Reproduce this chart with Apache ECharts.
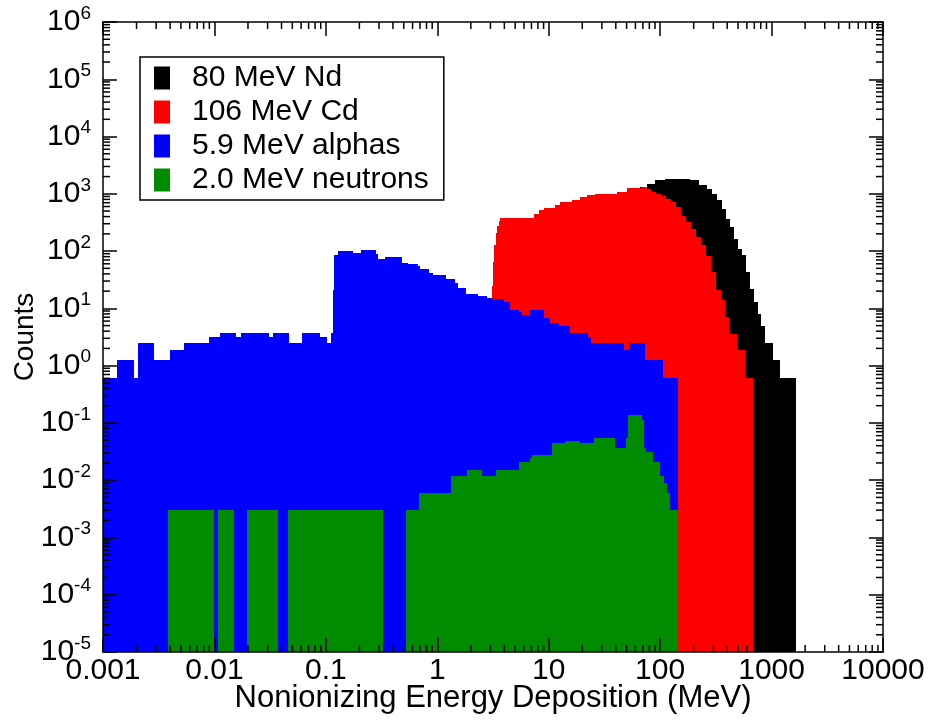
<!DOCTYPE html>
<html>
<head>
<meta charset="utf-8">
<style>
  html, body { margin: 0; padding: 0; background: #ffffff; }
  #chart { width: 930px; height: 723px; }
</style>
<script src="https://cdn.jsdelivr.net/npm/echarts@6/dist/echarts.min.js"></script>
</head>
<body>
<div id="chart"></div>
<script>
// Histogram bin edges (MeV) and counts per bin for each particle beam.
const ndEdges = [29.0, 66.35, 76.21, 90.46, 111.2, 186.4, 221.4, 263.4, 291.9, 323.6, 359.0, 392.4,
  426.1, 462.8, 499.5, 542.7, 593.2, 635.0, 689.6, 749.0, 803.9, 878.2, 1029.7, 1197, 1667];
const ndCounts = [1000, 1315, 1508, 1721, 1843, 1721, 1408, 1233, 1009, 770, 552, 369,
  263, 165, 110, 84, 43, 22.1, 12.9, 8.1, 5.0, 2.48, 1.24, 0.62];

const cdEdges = [3.097, 3.161, 3.248, 3.351, 3.456, 3.565, 3.677, 7.315, 8.113, 8.995, 11.46, 12.70,
  16.18, 19.20, 22.06, 26.18, 41.02, 50.41, 68.72, 76.21, 83.27, 92.36, 102.4, 113.6, 125.9, 139.6,
  154.8, 171.7, 190.3, 211.1, 234.0, 259.5, 287.7, 319.0, 353.8, 384.2, 411.4, 489.4, 581.0, 681.2];
const cdCounts = [25, 64, 126, 204, 271, 331, 381, 451, 515, 574, 648,
  720, 792, 880, 942, 1009, 1076, 1283, 1315, 1199, 1088, 988, 912, 818, 716,
  588, 413, 322, 242, 174, 126, 81, 44, 21.3, 13.8, 7.1, 3.6, 1.85, 0.62];

const alphaEdges = [0.001, 0.00134, 0.00188, 0.00206, 0.00289, 0.00402, 0.00529, 0.00899, 0.01129,
  0.01562, 0.01732, 0.03064, 0.03327, 0.04697, 0.06057, 0.08915, 0.1024, 0.1112, 0.1149, 0.1190,
  0.1274, 0.1752, 0.2067, 0.2836, 0.2937, 0.3414, 0.4824, 0.5415, 0.6658, 0.7038, 0.8479, 0.9152,
  1.197, 1.430, 1.521, 1.810, 2.300, 2.793, 3.097, 3.937, 4.521, 5.366, 5.757, 6.597, 8.995, 10.33,
  12.27, 15.39, 22.33, 23.96, 46.99, 52.11, 72.53, 106.1, 143.4];
const alphaCounts = [0.62, 1.24, 0.62, 2.48, 1.24, 1.86, 2.48, 3.10, 3.72, 3.10, 3.72, 3.10, 3.72,
  2.48, 3.72, 3.10, 2.48, 3.72, 20.7, 84, 100, 94, 103, 90, 74, 80, 63, 60, 55, 49, 41, 39, 32,
  28, 23, 18.1, 16.2, 15.4, 14.8, 12.9, 9.5, 8.6, 7.6, 9.5, 6.9, 5.5, 5.0, 3.72, 3.10, 2.48, 1.86,
  2.48, 1.24, 0.62];

const neutronEdges = [0.00383, 0.00997, 0.01076, 0.01508, 0.0196, 0.0372, 0.0460, 0.3257, 0.5238,
  0.6896, 1.316, 1.832, 2.534, 3.337, 5.411, 6.833, 7.077, 10.77, 14.00, 19.20, 25.49, 39.34, 49.69,
  51.05, 69.15, 72.07, 75.12, 85.55, 98.86, 107.4, 114.3, 122.6, 143.4];
const neutronCounts = [0.003, 0, 0.003, 0, 0.003, 0, 0.003, 0, 0.003, 0.006, 0.012, 0.015, 0.012,
  0.015, 0.021, 0.024, 0.027, 0.044, 0.048, 0.045, 0.054, 0.036, 0.054, 0.135, 0.114, 0.036, 0.031,
  0.021, 0.012, 0.009, 0.006, 0.003];

const seriesNames = ['80 MeV Nd', '106 MeV Cd', '5.9 MeV alphas', '2.0 MeV neutrons'];
const seriesColors = ['#000000', '#ff0000', '#0000ff', '#008b00'];

// Axis ranges and tick labels
const X_MIN = 0.001, X_MAX = 10000, Y_MIN = 1e-5, Y_MAX = 1e6;
const xTickLabels = ['0.001', '0.01', '0.1', '1', '10', '100', '1000', '10000'];
const yTickPowers = ['-5', '-4', '-3', '-2', '-1', '0', '1', '2', '3', '4', '5', '6'];

const FONT = '"Liberation Sans", Arial, Helvetica, sans-serif';

function toBins(edges, counts) {
  return counts.map((c, i) => [edges[i], edges[i + 1], c]);
}

// Each bin is a filled column from the bottom of the plot up to its count.
// Edges are snapped to whole pixels so neighbouring columns join without seams.
function renderBin(params, api) {
  const c = api.value(2);
  if (!(c > 0)) return null;
  const top = api.coord([api.value(0), c]);
  const bottom = api.coord([api.value(1), Y_MIN]);
  const x0 = Math.round(top[0]), x1 = Math.round(bottom[0]);
  const y0 = Math.round(top[1]), y1 = Math.round(bottom[1]);
  if (x1 <= x0) return null;
  return {
    type: 'rect',
    shape: { x: x0, y: y0, width: x1 - x0, height: y1 - y0 },
    style: { fill: api.visual('color') }
  };
}

// Minor log ticks (2..9 in each decade), mirrored on both sides of the frame.
function minorValues(lo, hi) {
  const out = [];
  for (let k = Math.round(Math.log10(lo)); k < Math.round(Math.log10(hi)); k++) {
    for (let m = 2; m <= 9; m++) out.push(m * Math.pow(10, k));
  }
  return out;
}
const MINOR_LEN = 7;
function renderXMinor(params, api) {
  const p = api.coord([api.value(0), 1]);
  const cs = params.coordSys;
  const b = cs.y + cs.height;
  return {
    type: 'group',
    children: [
      { type: 'line', shape: { x1: p[0], y1: b, x2: p[0], y2: b - MINOR_LEN }, style: { stroke: '#000', lineWidth: 1.5 } },
      { type: 'line', shape: { x1: p[0], y1: cs.y, x2: p[0], y2: cs.y + MINOR_LEN }, style: { stroke: '#000', lineWidth: 1.5 } }
    ]
  };
}
function renderYMinor(params, api) {
  const p = api.coord([1, api.value(1)]);
  const cs = params.coordSys;
  const r = cs.x + cs.width;
  return {
    type: 'group',
    children: [
      { type: 'line', shape: { x1: cs.x, y1: p[1], x2: cs.x + MINOR_LEN, y2: p[1] }, style: { stroke: '#000', lineWidth: 1.5 } },
      { type: 'line', shape: { x1: r, y1: p[1], x2: r - MINOR_LEN, y2: p[1] }, style: { stroke: '#000', lineWidth: 1.5 } }
    ]
  };
}

const frameLine = { show: true, onZero: false, lineStyle: { color: '#000', width: 1.5 } };
const majorTick = { show: true, inside: true, length: 14, lineStyle: { color: '#000', width: 1.5 } };

function xAxisDef(position, withLabels) {
  return {
    type: 'log', logBase: 10, min: X_MIN, max: X_MAX, interval: 1, splitNumber: 7, position: position, z: 8,
    axisLine: frameLine, axisTick: majorTick, minorTick: { show: false }, splitLine: { show: false },
    axisLabel: withLabels ? {
      show: true, fontSize: 30, color: '#000', fontFamily: FONT, margin: 4,
      formatter: v => xTickLabels[Math.round(Math.log10(v / X_MIN))]
    } : { show: false },
    name: withLabels ? 'Nonionizing Energy Deposition (MeV)' : '',
    nameLocation: 'middle', nameGap: 31, nameMoveOverlap: false,
    nameTextStyle: { fontSize: 31, color: '#000', fontFamily: FONT }
  };
}
function yAxisDef(position, withLabels) {
  return {
    type: 'log', logBase: 10, min: Y_MIN, max: Y_MAX, interval: 1, splitNumber: 11, position: position, z: 8,
    axisLine: frameLine, axisTick: majorTick, minorTick: { show: false }, splitLine: { show: false },
    axisLabel: withLabels ? {
      show: true, color: '#000', margin: 12,
      formatter: v => '{b|10}{s|' + yTickPowers[Math.round(Math.log10(v / Y_MIN))] + '}',
      rich: {
        b: { fontSize: 30, fontFamily: FONT, color: '#000' },
        s: { fontSize: 19, fontFamily: FONT, color: '#000', padding: [0, 0, 17, 0] }
      }
    } : { show: false },
    name: withLabels ? 'Counts' : '',
    nameLocation: 'middle', nameGap: 64, nameRotate: 90, nameMoveOverlap: false,
    nameTextStyle: { fontSize: 28, color: '#000', fontFamily: FONT }
  };
}

const histSets = [
  toBins(ndEdges, ndCounts),
  toBins(cdEdges, cdCounts),
  toBins(alphaEdges, alphaCounts),
  toBins(neutronEdges, neutronCounts)
];

const series = histSets.map((bins, i) => ({
  type: 'custom',
  name: seriesNames[i],
  xAxisIndex: 0, yAxisIndex: 0,
  renderItem: renderBin,
  encode: { x: [0, 1], y: 2 },
  itemStyle: { color: seriesColors[i] },
  data: bins,
  z: 2 + i * 0.01,
  silent: true
}));

series.push({
  type: 'custom', name: 'xMinor', xAxisIndex: 0, yAxisIndex: 0, renderItem: renderXMinor,
  encode: { x: 0, y: 1 }, data: minorValues(X_MIN, X_MAX).map(v => [v, 1]), z: 6, silent: true
});
series.push({
  type: 'custom', name: 'yMinor', xAxisIndex: 0, yAxisIndex: 0, renderItem: renderYMinor,
  encode: { x: 0, y: 1 }, data: minorValues(Y_MIN, Y_MAX).map(v => [1, v]), z: 6, silent: true
});

const chart = echarts.init(document.getElementById('chart'), null, { renderer: 'canvas' });
chart.setOption({
  animation: false,
  backgroundColor: '#ffffff',
  textStyle: { fontFamily: FONT },
  grid: { left: 103, right: 47, top: 22, bottom: 71, containLabel: false, outerBoundsMode: 'none' },
  xAxis: [xAxisDef('bottom', true), xAxisDef('top', false)],
  yAxis: [yAxisDef('left', true), yAxisDef('right', false)],
  legend: {
    data: seriesNames,
    orient: 'vertical',
    left: 140, top: 57,
    icon: 'rect',
    itemWidth: 16, itemHeight: 23, itemGap: 4,
    padding: [6, 15, 5, 14],
    backgroundColor: '#ffffff',
    borderColor: '#000', borderWidth: 1.5, borderRadius: 0,
    selectedMode: false,
    textStyle: { fontSize: 30, color: '#000', fontFamily: FONT, padding: [0, 0, 0, 17] }
  },
  series: series
});
</script>
</body>
</html>
